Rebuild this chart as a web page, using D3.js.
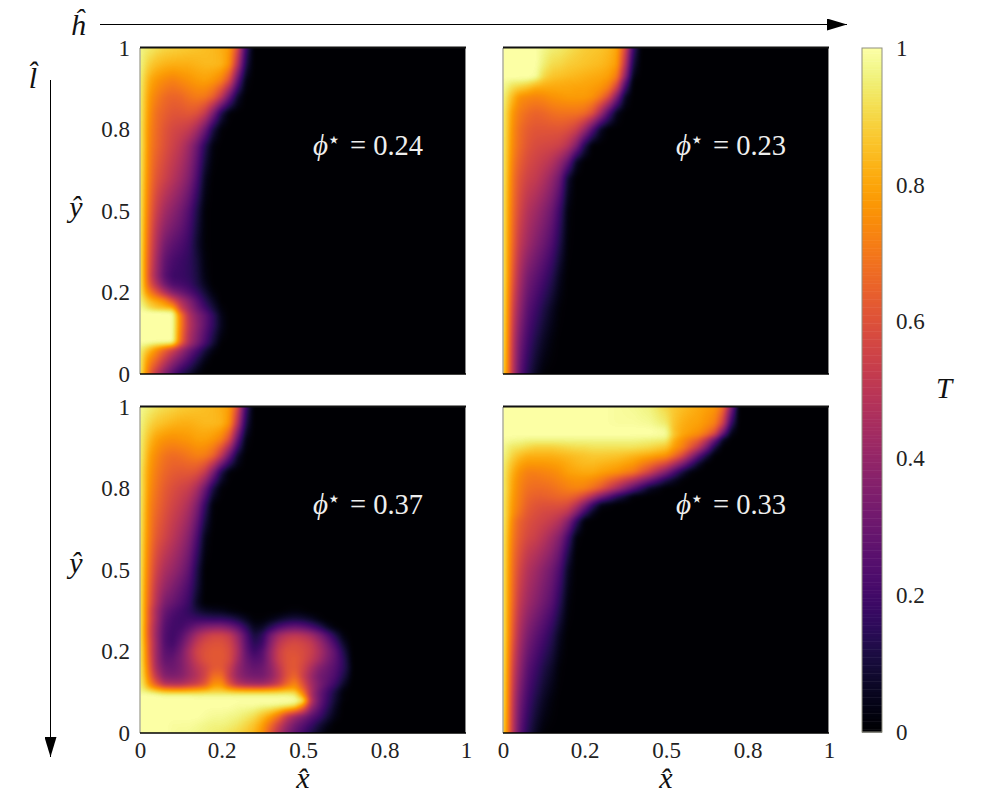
<!DOCTYPE html>
<html>
<head>
<meta charset="utf-8">
<script src="https://cdnjs.cloudflare.com/ajax/libs/d3/7.8.5/d3.min.js"></script>
<style>
  body { margin: 0; background: #fff; }
  text { font-family: "Liberation Serif", serif; fill: #222; }
  .math { font-style: italic; fill: #111; }
</style>
</head>
<body>
<script>
// Tick positions and the rounded labels printed on them
var tickValues = [0, 0.25, 0.5, 0.75, 1];
var tickLabels = ["0", "0.2", "0.5", "0.8", "1"];
var barTicks = [0, 0.2, 0.4, 0.6, 0.8, 1];
var phiValues = ["0.24", "0.23", "0.37", "0.33"];

// Temperature, in percent. Rows run from the top of each panel.
// Rows may stop early, the rest of the row is cold.
var xKnots1 = [0, .015, .03, .05, .075, .1, .125, .15, .175, .2, .225, .25, .275, .3, .325, .35];
var yKnots1 = [1, .95, .9, .85, .8, .75, .7, .6, .5, .45, .4, .35, .3, .275, .25, .225, .2, .19, .18, .15, .1, .09, .075, .05, .025, 0];
var temp1 = [
  [97,95,94,92,90,89,88,87,86,85,84,82,78,58,18,0],
  [97,92,88,85,83,82,82,82,83,84,84,83,76,48,12,0],
  [96,88,81,77,74,72,74,76,78,79,77,72,58,27,3,0],
  [96,86,77,72,67,65,66,69,71,70,64,50,28,7,0],
  [96,85,75,68,64,61,61,62,60,52,34,12,1,0],
  [96,84,73,67,61,57,55,52,44,30,11,1,0],
  [96,84,72,66,60,55,50,42,30,14,2,0],
  [96,82,70,61,55,49,43,35,22,5,0],
  [96,80,66,54,44,38,32,24,12,1,0],
  [96,79,64,50,39,33,28,21,10,1,0],
  [96,78,62,47,33,27,23,18,8,1,0],
  [96,77,60,44,28,22,19,16,10,2,0],
  [96,77,58,42,26,19,18,16,11,3,0],
  [96,78,62,48,32,23,21,18,12,5,0],
  [96,82,72,62,48,36,30,24,17,9,2,0],
  [97,90,84,80,74,60,46,36,25,14,6,0],
  [99,96,92,88,86,84,56,42,30,20,10,2,0],
  [100,100,100,100,100,98,64,45,33,24,13,3,0],
  [100,100,100,100,100,100,72,48,36,27,16,4,0],
  [100,100,100,100,100,100,72,50,38,27,16,5,0],
  [100,100,100,100,100,100,68,46,34,22,10,1,0],
  [98,97,95,92,90,86,60,43,31,19,8,0],
  [96,90,84,76,66,56,44,32,22,11,3,0],
  [96,84,76,68,56,44,34,24,14,5,0],
  [96,82,70,60,46,34,24,16,8,1,0],
  [95,80,64,50,36,24,14,8,2,0]
];

var xKnots2 = [0, .015, .03, .05, .075, .1, .125, .15, .175, .2, .225, .25, .275, .3, .325, .35, .375, .4, .425];
var yKnots2 = [1, .95, .91, .9, .875, .85, .8, .75, .7, .65, .6, .5, .4, .3, .2, .1, 0];
var temp2 = [
  [100,100,100,100,100,100,97,95,94,92,90,88,87,86,84,80,58,18,0],
  [100,100,100,100,100,100,95,91,90,88,87,86,85,84,82,78,50,10,0],
  [100,100,100,100,100,99,90,86,85,84,83,82,81,80,78,70,38,3,0],
  [99,98,97,97,96,92,86,84,83,82,82,81,80,79,76,65,30,1,0],
  [98,94,90,87,84,80,80,80,80,80,79,79,78,76,70,52,18,0],
  [97,90,84,76,74,73,74,76,77,78,78,78,76,70,58,34,6,0],
  [96,86,77,71,67,65,66,68,69,69,69,67,60,43,22,4,0],
  [96,85,75,68,63,61,61,61,61,59,54,42,24,6,0],
  [96,84,74,67,61,58,57,56,54,48,35,13,0],
  [96,83,72,64,58,55,52,48,40,28,6,0],
  [96,82,70,61,55,52,47,40,30,8,0],
  [96,80,68,57,48,43,37,30,18,2,0],
  [96,79,66,52,43,36,30,23,12,1,0],
  [96,78,62,46,33,27,21,14,5,0],
  [95,76,56,40,26,19,12,6,1,0],
  [94,74,52,33,20,12,6,2,0],
  [92,72,50,28,14,6,1,0]
];

var xKnots3 = [0, .015, .03, .05, .075, .1, .125, .15, .175, .2, .225, .25, .275, .3, .325, .35, .375, .4, .425, .45, .475, .5, .525, .55, .575, .6, .625, .65];
var yKnots3 = [1, .95, .9, .85, .8, .75, .7, .6, .5, .45, .4, .375, .35, .325, .3, .275, .25, .225, .2, .175, .15, .135, .125, .115, .1, .085, .05, .025, 0];
var temp3 = [
  [98,96,95,93,91,90,88,87,86,85,84,82,78,58,18,0],
  [97,93,90,87,85,83,82,82,83,84,84,83,76,48,12,0],
  [96,90,84,79,76,75,76,77,79,79,77,72,58,27,3,0],
  [96,88,79,74,69,67,68,70,72,71,65,50,28,7,0],
  [96,85,77,71,66,63,62,62,60,52,34,12,1,0],
  [96,85,75,69,63,59,56,53,45,30,11,1,0],
  [96,84,73,67,61,56,52,46,35,17,1,0],
  [96,82,71,62,56,50,44,36,22,4,0],
  [96,80,67,55,46,41,35,27,12,0],
  [96,79,65,51,41,35,29,22,10,0],
  [96,78,63,48,34,29,24,18,6,0],
  [96,78,60,44,30,24,20,16,10,6,5,4,2,1,0,0,0,0,0,1,2,1,0],
  [96,78,60,44,27,21,19,19,18,17,16,16,14,10,5,1,1,3,6,9,10,9,6,2,0],
  [96,77,58,42,25,20,20,25,31,35,37,37,33,26,15,5,6,14,22,27,29,27,22,15,6,1,0],
  [96,77,58,41,24,19,24,34,45,52,56,56,52,40,24,10,15,31,43,49,51,49,44,35,24,12,2,0],
  [96,78,60,42,24,20,28,40,52,58,60,60,56,44,26,14,18,36,50,56,58,56,52,43,32,20,7,0],
  [96,80,60,42,26,24,32,45,56,60,62,62,58,46,28,18,24,40,54,60,60,58,54,46,36,26,12,1],
  [96,80,62,42,28,28,34,44,54,60,62,62,58,44,30,24,26,40,54,60,62,58,52,44,34,26,15,2],
  [96,82,64,44,32,30,34,42,50,56,62,62,54,40,32,28,30,38,50,60,62,56,46,36,30,24,15,4],
  [96,84,68,50,36,34,36,42,48,56,68,68,52,40,34,32,32,38,48,60,66,54,42,32,28,22,12,2],
  [96,88,75,62,48,46,46,50,54,62,76,76,60,48,44,42,42,46,54,66,74,60,44,34,26,18,7,0],
  [97,92,86,80,74,72,72,74,76,78,84,84,78,74,72,72,72,74,76,80,80,66,46,32,22,13,3,0],
  [98,97,96,92,88,87,87,87,88,89,90,90,89,88,88,88,88,88,89,90,90,72,46,30,20,10,1,0],
  [100,100,100,100,99,99,99,99,98,98,98,98,98,98,98,98,98,98,98,98,96,78,46,30,19,9,1,0],
  [100,100,100,100,100,100,100,100,100,100,100,100,100,100,100,100,100,100,100,100,100,95,50,30,18,8,1,0],
  [100,100,100,100,100,100,100,100,100,100,100,100,100,99,99,99,98,98,97,96,93,76,44,28,16,6,0],
  [100,100,100,100,100,100,100,100,100,99,98,98,97,96,94,91,85,78,68,52,42,34,26,19,10,3,0],
  [100,100,100,100,100,99,99,99,98,97,96,96,95,93,90,86,79,68,55,42,32,25,18,10,4,0],
  [100,100,100,100,100,99,98,98,97,96,95,94,92,90,87,83,76,62,48,36,27,20,12,6,1,0]
];

var xKnots4 = [0, .015, .03, .05, .075, .1, .125, .15, .175, .2, .225, .25, .275, .3, .35, .4, .45, .5, .525, .55, .575, .6, .625, .65, .675, .7, .725];
var yKnots4 = [1, .95, .93, .915, .9, .875, .85, .825, .8, .775, .75, .725, .7, .675, .65, .6, .55, .5, .4, .3, .2, .1, 0];
var temp4 = [
  [100,100,100,100,100,100,100,100,100,100,100,100,100,100,99,98,96,90,87,85,83,81,79,77,68,35,0],
  [100,100,100,100,100,100,100,100,100,100,100,100,100,100,99,99,98,94,86,82,80,79,76,72,55,18,0],
  [100,100,100,100,100,100,100,100,100,100,100,100,100,100,100,100,100,98,85,81,79,77,72,64,40,8,0],
  [100,100,100,100,100,100,100,100,100,100,100,100,100,100,100,100,100,99,87,80,77,74,67,55,25,3,0],
  [99,99,98,98,97,97,97,97,97,97,97,97,97,97,97,97,96,95,82,76,70,64,50,30,6,0],
  [98,95,93,92,90,88,88,88,89,90,91,91,92,92,92,92,90,86,78,72,62,50,32,10,0],
  [97,93,89,85,82,82,82,82,83,84,85,86,87,87,86,83,80,76,68,58,42,25,10,0],
  [96,90,85,80,77,77,77,78,79,81,83,84,84,83,81,77,68,57,46,34,20,7,0],
  [96,88,82,76,72,72,73,74,76,79,80,81,81,79,76,70,55,35,22,10,2,0],
  [96,87,80,74,70,69,70,71,73,75,76,76,74,71,60,47,30,12,6,1,0],
  [96,87,79,73,68,67,67,68,70,72,73,72,68,62,45,25,6,0],
  [96,86,78,72,66,64,64,65,66,66,63,56,46,34,14,1,0],
  [96,85,77,71,64,61,60,60,60,58,49,35,18,4,0],
  [96,85,76,69,62,59,57,56,54,49,35,18,5,0],
  [96,84,73,65,60,57,55,52,47,36,17,1,0],
  [96,82,71,63,57,54,49,43,35,20,2,0],
  [96,81,69,60,52,48,43,37,28,12,0],
  [96,80,68,57,48,43,37,31,22,6,0],
  [96,79,66,52,43,37,31,25,14,2,0],
  [96,78,62,46,34,27,21,14,5,0],
  [95,76,56,40,26,19,12,7,1,0],
  [94,74,52,33,20,12,6,2,0],
  [92,72,50,28,14,6,1,0]
];

var panelX = [140, 503, 140, 503];
var panelY = [48, 48, 407, 407];
var panelW = 326;
var panelH = 326;
var knotsX = [xKnots1, xKnots2, xKnots3, xKnots4];
var knotsY = [yKnots1, yKnots2, yKnots3, yKnots4];
var temps = [temp1, temp2, temp3, temp4];

var svg = d3.select("body").append("svg")
    .attr("width", 997)
    .attr("height", 797);

var defs = svg.append("defs");
var color = d3.scaleSequential(d3.interpolateInferno).domain([0, 1]);

// lookup table, parsing a colour for every pixel is slow
var lut = d3.range(1025).map(function (i) {
    return d3.rgb(color(i / 1024));
});

// Finds the pair of knots around v and how far along between them it is
function locate(knots, v) {
    var i = 0;
    while (i < knots.length - 2 && ((knots[0] > knots[1]) ? knots[i + 1] >= v : knots[i + 1] <= v)) i++;
    var t = (v - knots[i]) / (knots[i + 1] - knots[i]);
    return [i, Math.max(0, Math.min(1, t))];
}

function cell(rows, r, c) {
    var v = rows[r][c];
    return v === undefined ? 0 : v;
}

// Small box blur to take the kinks out of the shading, edges are clamped
function soften(field, w, h, r) {
    var out = new Float32Array(field.length);
    for (var j = 0; j < h; j++) {
        for (var i = 0; i < w; i++) {
            var s = 0;
            for (var d = -r; d <= r; d++) s += field[j * w + Math.max(0, Math.min(w - 1, i + d))];
            out[j * w + i] = s / (2 * r + 1);
        }
    }
    var res = new Float32Array(field.length);
    for (var j2 = 0; j2 < h; j2++) {
        for (var i2 = 0; i2 < w; i2++) {
            var s2 = 0;
            for (var d2 = -r; d2 <= r; d2++) s2 += out[Math.max(0, Math.min(h - 1, j2 + d2)) * w + i2];
            res[j2 * w + i2] = s2 / (2 * r + 1);
        }
    }
    return res;
}

// Shades one panel into a canvas and hands back a data url
function drawField(p, xScale, yScale) {
    var cv = document.createElement("canvas");
    cv.width = panelW;
    cv.height = panelH;
    var ctx = cv.getContext("2d");
    var img = ctx.createImageData(panelW, panelH);
    var kx = knotsX[p], ky = knotsY[p], rows = temps[p];
    var field = new Float32Array(panelW * panelH);

    for (var j = 0; j < panelH; j++) {
        var ly = locate(ky, yScale.invert(j + 0.5));
        for (var i = 0; i < panelW; i++) {
            var vx = xScale.invert(i + 0.5);
            var v = 0;
            if (vx < kx[kx.length - 1]) {
                var lx = locate(kx, vx);
                var a = cell(rows, ly[0], lx[0]) * (1 - lx[1]) + cell(rows, ly[0], lx[0] + 1) * lx[1];
                var b = cell(rows, ly[0] + 1, lx[0]) * (1 - lx[1]) + cell(rows, ly[0] + 1, lx[0] + 1) * lx[1];
                v = a * (1 - ly[1]) + b * ly[1];
            }
            field[j * panelW + i] = v / 100;
        }
    }

    field = soften(soften(field, panelW, panelH, 2), panelW, panelH, 2);

    for (var k = 0; k < field.length; k++) {
        var c = lut[Math.round(field[k] * 1024)];
        img.data[k * 4] = c.r;
        img.data[k * 4 + 1] = c.g;
        img.data[k * 4 + 2] = c.b;
        img.data[k * 4 + 3] = 255;
    }
    ctx.putImageData(img, 0, 0);
    return cv.toDataURL();
}

phiValues.forEach(function (phi, p) {
    var x = d3.scaleLinear().domain([0, 1]).range([0, panelW]);
    var y = d3.scaleLinear().domain([0, 1]).range([panelH, 0]);

    var g = svg.append("g")
        .attr("transform", "translate(" + panelX[p] + "," + panelY[p] + ")");

    g.append("image")
        .attr("width", panelW)
        .attr("height", panelH)
        .attr("href", drawField(p, x, y));

    // frame: the shading covers most of the left and right lines
    g.append("line").attr("x1", 0).attr("x2", 0).attr("y1", 0).attr("y2", panelH)
        .attr("stroke", "#a9a99c").attr("stroke-width", 1.4);
    g.append("line").attr("x1", panelW - 0.5).attr("x2", panelW - 0.5).attr("y1", 0).attr("y2", panelH)
        .attr("stroke", "#8a8a8a").attr("stroke-width", 1);
    g.append("line").attr("x1", 0).attr("x2", panelW).attr("y1", -0.5).attr("y2", -0.5)
        .attr("stroke", "#111").attr("stroke-width", 2);
    g.append("line").attr("x1", 0).attr("x2", panelW).attr("y1", panelH).attr("y2", panelH)
        .attr("stroke", "#000").attr("stroke-width", 1.6);

    var xAxis = d3.axisBottom(x)
        .tickValues(tickValues)
        .tickSize(0)
        .tickPadding(9)
        .tickFormat(function (d, i) { return p > 1 ? tickLabels[i] : ""; });
    var yAxis = d3.axisLeft(y)
        .tickValues(tickValues)
        .tickSize(0)
        .tickPadding(10)
        .tickFormat(function (d, i) { return p % 2 == 0 ? tickLabels[i] : ""; });

    var gx = g.append("g").attr("transform", "translate(0," + panelH + ")").call(xAxis);
    var gy = g.append("g").call(yAxis);
    gx.select(".domain").remove();
    gy.select(".domain").remove();
    gx.selectAll("text").style("font-size", "23px").style("font-family", "Liberation Serif").attr("fill", "#333");
    gy.selectAll("text").style("font-size", "23px").style("font-family", "Liberation Serif").attr("fill", "#333");

    // phi label inside the panel
    var lab = g.append("g").attr("transform", "translate(173,107)");
    lab.append("text").attr("class", "math").attr("x", 0).attr("y", 0)
        .style("font-size", "29px").style("fill", "#eee").text("\u03d5");
    lab.append("text").attr("x", 14).attr("y", -8)
        .style("font-size", "22px").style("fill", "#eee").style("font-family", "DejaVu Sans").text("\u22c6");
    lab.append("text").attr("x", 37).attr("y", 0)
        .style("font-size", "28.5px").style("fill", "#eee").text("= " + phi);

    if (p > 1) {
        g.append("text").attr("class", "math")
            .attr("x", panelW / 2).attr("y", panelH + 55)
            .attr("text-anchor", "middle").style("font-size", "30px").text("x\u0302");
    }
    if (p % 2 == 0) {
        g.append("text").attr("class", "math")
            .attr("x", -64).attr("y", panelH / 2 + (p == 0 ? 6 : 3))
            .attr("text-anchor", "middle").style("font-size", "30px").text("y\u0302");
    }
});

// Colour bar
var barY = d3.scaleLinear().domain([0, 1]).range([732, 48]);
var barG = svg.append("g").attr("transform", "translate(862,0)");

barG.selectAll("rect.step")
    .data(d3.range(0, 1, 1 / 256))
    .enter().append("rect")
    .attr("class", "step")
    .attr("x", 0)
    .attr("width", 20)
    .attr("y", function (d) { return barY(d + 1 / 256); })
    .attr("height", function (d) { return barY(d) - barY(d + 1 / 256) + 0.5; })
    .attr("fill", function (d) { return color(d + 0.5 / 256); });

barG.append("rect")
    .attr("x", 0).attr("y", 48).attr("width", 20).attr("height", 684)
    .attr("fill", "none").attr("stroke", "#8f8f80").attr("stroke-width", 1);

var barAxis = d3.axisRight(barY)
    .tickValues(barTicks)
    .tickSize(0)
    .tickPadding(34)
    .tickFormat(function (d) { return d3.format("~g")(d); });
var gBar = barG.append("g").call(barAxis);
gBar.select(".domain").remove();
gBar.selectAll("text").style("font-size", "23px").style("font-family", "Liberation Serif").attr("fill", "#333");

svg.append("text").attr("class", "math")
    .attr("x", 944).attr("y", 398)
    .attr("text-anchor", "middle").style("font-size", "29px").text("T");

// Arrows for the h and l directions
defs.append("marker")
    .attr("id", "head")
    .attr("markerUnits", "userSpaceOnUse")
    .attr("viewBox", "0 0 20 12")
    .attr("refX", 20).attr("refY", 6)
    .attr("markerWidth", 20).attr("markerHeight", 12)
    .attr("orient", "auto")
    .append("path")
    .attr("d", "M0,0 L20,6 L0,12 Z")
    .attr("fill", "#000");

svg.append("line").attr("x1", 100).attr("x2", 847).attr("y1", 24.5).attr("y2", 24.5)
    .attr("stroke", "#000").attr("stroke-width", 1).attr("marker-end", "url(#head)");
svg.append("line").attr("x1", 50.5).attr("x2", 50.5).attr("y1", 80).attr("y2", 757)
    .attr("stroke", "#000").attr("stroke-width", 1).attr("marker-end", "url(#head)");

svg.append("text").attr("class", "math")
    .attr("x", 78).attr("y", 35)
    .attr("text-anchor", "middle").style("font-size", "30px").text("h\u0302");
svg.append("text").attr("class", "math")
    .attr("x", 33).attr("y", 88)
    .attr("text-anchor", "middle").style("font-size", "30px").text("l\u0302");
</script>
</body>
</html>
